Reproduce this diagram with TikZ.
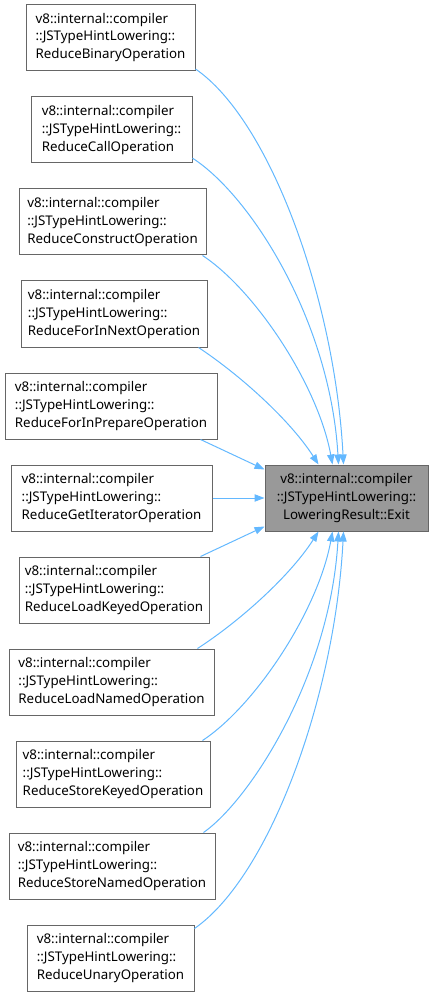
\documentclass[tikz,border=0pt]{standalone}
\usepackage{fontspec}
\setmainfont{Noto Sans}
\usetikzlibrary{arrows.meta}
\definecolor{edgeblue}{HTML}{63B8FF}
\definecolor{bordergray}{HTML}{666666}
\definecolor{fillgray}{HTML}{999999}
\begin{document}
\begin{tikzpicture}[x=0.75pt,y=-0.75pt,
  src/.style={draw=bordergray, line width=0.75pt, fill=white, align=left,
    font=\fontsize{10}{13.3}\selectfont, inner sep=0pt, minimum height=49.5pt},
  dst/.style={draw=bordergray, line width=0.75pt, fill=fillgray, align=center,
    font=\fontsize{10}{13.3}\selectfont, inner sep=0pt, minimum height=49.5pt},
  edge/.style={draw=edgeblue, line width=0.75pt, -{Triangle[length=7.5pt,width=5.5pt]}}]
\useasboundingbox (0,0) rectangle (433,998);
\node[src, minimum width=169*0.75pt] (b1) at (110.5,37.5) {v8::internal::compiler\\::JSTypeHintLowering::\\ReduceBinaryOperation};
\node[src, minimum width=161*0.75pt] (b2) at (111.5,130) {v8::internal::compiler\\::JSTypeHintLowering::\\ReduceCallOperation};
\node[src, minimum width=187*0.75pt] (b3) at (112.5,222) {v8::internal::compiler\\::JSTypeHintLowering::\\ReduceConstructOperation};
\node[src, minimum width=186*0.75pt] (b4) at (114,314) {v8::internal::compiler\\::JSTypeHintLowering::\\ReduceForInNextOperation};
\node[src, minimum width=212*0.75pt] (b5) at (111,406) {v8::internal::compiler\\::JSTypeHintLowering::\\ReduceForInPrepareOperation};
\node[src, minimum width=201*0.75pt] (b6) at (111.5,498) {v8::internal::compiler\\::JSTypeHintLowering::\\ReduceGetIteratorOperation};
\node[src, minimum width=190*0.75pt] (b7) at (114,590) {v8::internal::compiler\\::JSTypeHintLowering::\\ReduceLoadKeyedOperation};
\node[src, minimum width=205*0.75pt] (b8) at (111.5,682) {v8::internal::compiler\\::JSTypeHintLowering::\\ReduceLoadNamedOperation};
\node[src, minimum width=194*0.75pt] (b9) at (113,774) {v8::internal::compiler\\::JSTypeHintLowering::\\ReduceStoreKeyedOperation};
\node[src, minimum width=206*0.75pt] (b10) at (112,866) {v8::internal::compiler\\::JSTypeHintLowering::\\ReduceStoreNamedOperation};
\node[src, minimum width=167*0.75pt] (b11) at (110.5,958) {v8::internal::compiler\\::JSTypeHintLowering::\\ReduceUnaryOperation};
\node[dst, minimum width=163*0.75pt] (ex) at (346.5,498) {v8::internal::compiler\\::JSTypeHintLowering::\\LoweringResult::Exit};
\draw[edge] ([yshift=1.5pt]b1.south east) .. controls (270,120) and (335,300) .. ([xshift=79*0.75pt]ex.north west);
\draw[edge] ([yshift=4pt]b2.south east) .. controls (250,195) and (330,320) .. ([xshift=74*0.75pt]ex.north west);
\draw[edge] ([xshift=-3pt]b3.south east) .. controls (255,290) and (318,385) .. ([xshift=68*0.75pt]ex.north west);
\draw[edge] ([xshift=-6.75pt]b4.south east) .. controls (240,375) and (290,420) .. ([xshift=54*0.75pt]ex.north west);
\draw[edge] ([xshift=-12.75pt]b5.south east) -- ([yshift=-3.75pt]ex.north west);
\draw[edge] (b6.east) -- (ex.west);
\draw[edge] ([xshift=-6.75pt]b7.north east) -- ([yshift=3.75pt]ex.south west);
\draw[edge] ([xshift=-12.75pt]b8.north east) .. controls (240,621) and (290,576) .. ([xshift=54*0.75pt]ex.south west);
\draw[edge] ([xshift=-6pt]b9.north east) .. controls (255,706) and (318,611) .. ([xshift=68*0.75pt]ex.south west);
\draw[edge] ([xshift=-9pt]b10.north east) .. controls (250,800) and (330,676) .. ([xshift=74*0.75pt]ex.south west);
\draw[edge] ([yshift=-3pt]b11.north east) .. controls (270,876) and (335,696) .. ([xshift=79*0.75pt]ex.south west);
\end{tikzpicture}
\end{document}
